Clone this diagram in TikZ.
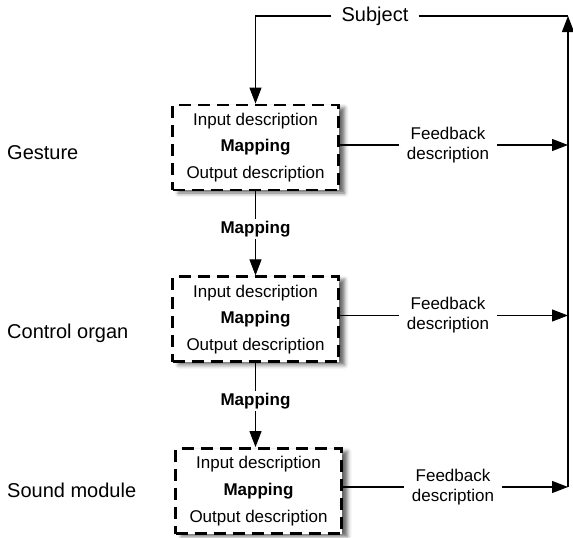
\documentclass[tikz,border=0pt]{standalone}
\usepackage{fontspec}
\setmainfont{Liberation Sans}
\usetikzlibrary{
	arrows.meta,
	calc,
	positioning,
	shadows.blur
}

\begin{document}
\begin{tikzpicture}[x=1pt, y=-1pt,
		>={Triangle[length=16pt,width=12pt]},
		conn/.style={line width=1.1pt},
		mapbox/.style={draw, fill=white, line width=2.8pt, dash pattern=on 12pt off 7pt,
			minimum width=166pt, minimum height=85pt, align=center, inner sep=0pt,
			font=\fontsize{17}{26.7}\selectfont,
			blur shadow={shadow xshift=6pt, shadow yshift=-3pt, shadow opacity=60, shadow blur radius=4pt}},
		fblabel/.style={align=center, inner sep=8pt, font=\fontsize{17}{20}\selectfont},
		maplabel/.style={fill=white, inner sep=2pt, font=\fontsize{17}{20}\selectfont\bfseries},
		sidelabel/.style={anchor=west, inner sep=0pt, font=\fontsize{20}{24}\selectfont}]
		\useasboundingbox (0,0) rectangle (573,538);
		% boxes
		\node[mapbox] (gbox) at (255.5,147.5) {Input description\\\textbf{Mapping}\\Output description};
		\node[mapbox] (cbox) at (255.5,319.3) {Input description\\\textbf{Mapping}\\Output description};
		\node[mapbox] (sbox) at (258.5,491) {Input description\\\textbf{Mapping}\\Output description};
		% side labels
		\node[sidelabel] (gesture) at (7,153) {Gesture};
		\node[sidelabel] (organ) at (7,333) {Control organ};
		\node[sidelabel] (module) at (7,490) {Sound module};
		% feedback labels
		\node[fblabel] (gfb) at (448,145) {Feedback\\description};
		\node[fblabel] (cfb) at (448,315.5) {Feedback\\description};
		\node[fblabel] (sfb) at (453,487) {Feedback\\description};
		% subject loop
		\coordinate (topright) at (568,16);
		\coordinate (botright) at (568,487);
		\node[inner sep=10pt, font=\fontsize{20}{24}\selectfont] (subj) at (375,16) {Subject};
		\draw[conn, ->] (subj.west) -| (gbox.north);
		\draw[conn] (subj.east) -- (topright);
		\draw[conn, ->] (botright) -- (topright);
		% feedback connectors
		\draw[conn] (gbox.east |- gfb.west) -- (gfb.west);
		\draw[conn] (cbox.east |- cfb.west) -- (cfb.west);
		\draw[conn] (sbox.east |- sfb.west) -- (sfb.west);
		\draw[conn, ->] (gfb.east) -- (gfb.east -| topright);
		\draw[conn, ->] (cfb.east) -- (cfb.east -| topright);
		\draw[conn, ->] (sfb.east) -- (sfb.east -| topright);
		% mappings between boxes
		\draw[conn, ->] (gbox.south) -- node[maplabel, pos=0.45] {Mapping} (cbox.north);
		\draw[conn, ->] (cbox.south) -- node[maplabel, pos=0.45] {Mapping} (cbox.south |- sbox.north);
	\end{tikzpicture}
\end{document}
